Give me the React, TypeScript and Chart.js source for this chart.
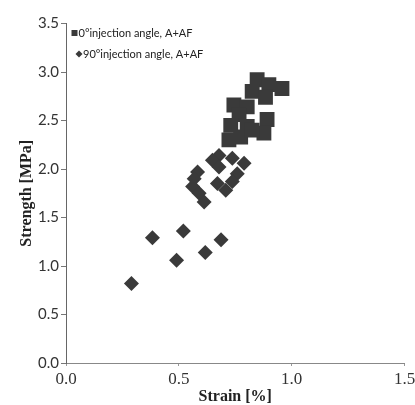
import React, { useEffect, useRef } from "react";
import { Chart, registerables } from "chart.js";

Chart.register(...registerables);

const series0Label = "0°injection angle, A+AF";
const series0Strain = [0.847, 0.899, 0.957, 0.825, 0.884, 0.744, 0.803, 0.767, 0.891, 0.73, 0.803, 0.722, 0.774, 0.877, 0.825];
const series0Strength = [2.92, 2.87, 2.83, 2.8, 2.74, 2.66, 2.64, 2.56, 2.51, 2.45, 2.44, 2.3, 2.33, 2.37, 2.4];

const series90Label = "90°injection angle, A+AF";
const series90Strain = [0.383, 0.52, 0.49, 0.617, 0.687, 0.29, 0.678, 0.649, 0.737, 0.789, 0.678, 0.759, 0.737, 0.671, 0.708, 0.583, 0.568, 0.561, 0.59, 0.612];
const series90Strength = [1.29, 1.36, 1.06, 1.14, 1.27, 0.82, 2.14, 2.09, 2.11, 2.06, 2.02, 1.95, 1.87, 1.85, 1.78, 1.97, 1.9, 1.82, 1.75, 1.66];

const xTicks = [0, 0.5, 1.0, 1.5];
const yTicks = [0, 0.5, 1.0, 1.5, 2.0, 2.5, 3.0, 3.5];
const xTitle = "Strain [%]";
const yTitle = "Strength [MPa]";

const MARK = "#3a3a3a";

const legendPlugin = {
  id: "inLegend",
  afterDatasetsDraw(chart: any) {
    const ctx = chart.ctx;
    ctx.save();
    ctx.font = "11px Lato";
    ctx.textBaseline = "middle";
    const ds = chart.data.datasets;
    ctx.fillStyle = MARK;
    ctx.fillRect(71.5, 30, 6, 6);
    ctx.fillStyle = "#222";
    ctx.fillText(ds[0].label, 78.5, 33);
    ctx.fillStyle = MARK;
    ctx.beginPath();
    ctx.moveTo(79, 50.5);
    ctx.lineTo(82.5, 54);
    ctx.lineTo(79, 57.5);
    ctx.lineTo(75.5, 54);
    ctx.closePath();
    ctx.fill();
    ctx.fillStyle = "#222";
    ctx.fillText(ds[1].label, 83, 54);
    ctx.restore();
  },
};

export default function App() {
  const ref = useRef<HTMLCanvasElement>(null);
  useEffect(() => {
    document.body.style.margin = "0";
    const canvas = ref.current!;
    const chart = new Chart(canvas, {
      type: "scatter",
      data: {
        datasets: [
          {
            label: series0Label,
            data: series0Strain.map((x, i) => ({ x, y: series0Strength[i] })),
            pointStyle: "rect",
            pointRadius: 10.5,
            backgroundColor: MARK,
            borderColor: MARK,
            borderWidth: 0,
          },
          {
            label: series90Label,
            data: series90Strain.map((x, i) => ({ x, y: series90Strength[i] })),
            pointStyle: "rectRot",
            pointRadius: 7.5,
            backgroundColor: MARK,
            borderColor: MARK,
            borderWidth: 0,
          },
        ],
      },
      options: {
        responsive: false,
        animation: false,
        layout: { padding: { top: 23.5, right: 9, left: 0, bottom: 0 } },
        plugins: { legend: { display: false }, tooltip: { enabled: false } },
        scales: {
          x: {
            type: "linear",
            min: 0,
            max: 1.5,
            afterBuildTicks: (s: any) => {
              s.ticks = xTicks.map((v) => ({ value: v }));
            },
            afterFit: (s: any) => {
              s.height = 42;
              s.paddingLeft = 0;
              s.paddingRight = 0;
            },
            grid: { display: true, drawOnChartArea: false, drawTicks: true, tickLength: 3, color: "#999" },
            border: { display: true, color: "#888", width: 1 },
            ticks: {
              padding: 3,
              color: "#333",
              font: { family: "Liberation Serif", size: 17 },
              callback: (v: any) => Number(v).toFixed(1),
              maxRotation: 0,
            },
            title: {
              display: true,
              text: xTitle,
              color: "#222",
              font: { family: "Liberation Serif", size: 16, weight: "bold", lineHeight: 1 },
              padding: { top: 0, bottom: 0 },
            },
          },
          y: {
            type: "linear",
            min: 0,
            max: 3.5,
            afterBuildTicks: (s: any) => {
              s.ticks = yTicks.map((v) => ({ value: v }));
            },
            afterFit: (s: any) => {
              s.width = 66;
              s.paddingTop = 0;
              s.paddingBottom = 0;
            },
            grid: { display: true, drawOnChartArea: false, drawTicks: true, tickLength: 5, color: "#777" },
            border: { display: true, color: "#666", width: 1 },
            ticks: {
              padding: 2,
              color: "#333",
              font: { family: "Lato", size: 15 },
              callback: (v: any) => Number(v).toFixed(1),
            },
            title: {
              display: true,
              text: yTitle,
              color: "#222",
              font: { family: "Liberation Serif", size: 16, weight: "bold" },
              padding: { top: 17, bottom: 0 },
            },
          },
        },
      },
      plugins: [legendPlugin],
    });
    return () => chart.destroy();
  }, []);
  return <canvas ref={ref} width={415} height={405} style={{ display: "block" }} />;
}
